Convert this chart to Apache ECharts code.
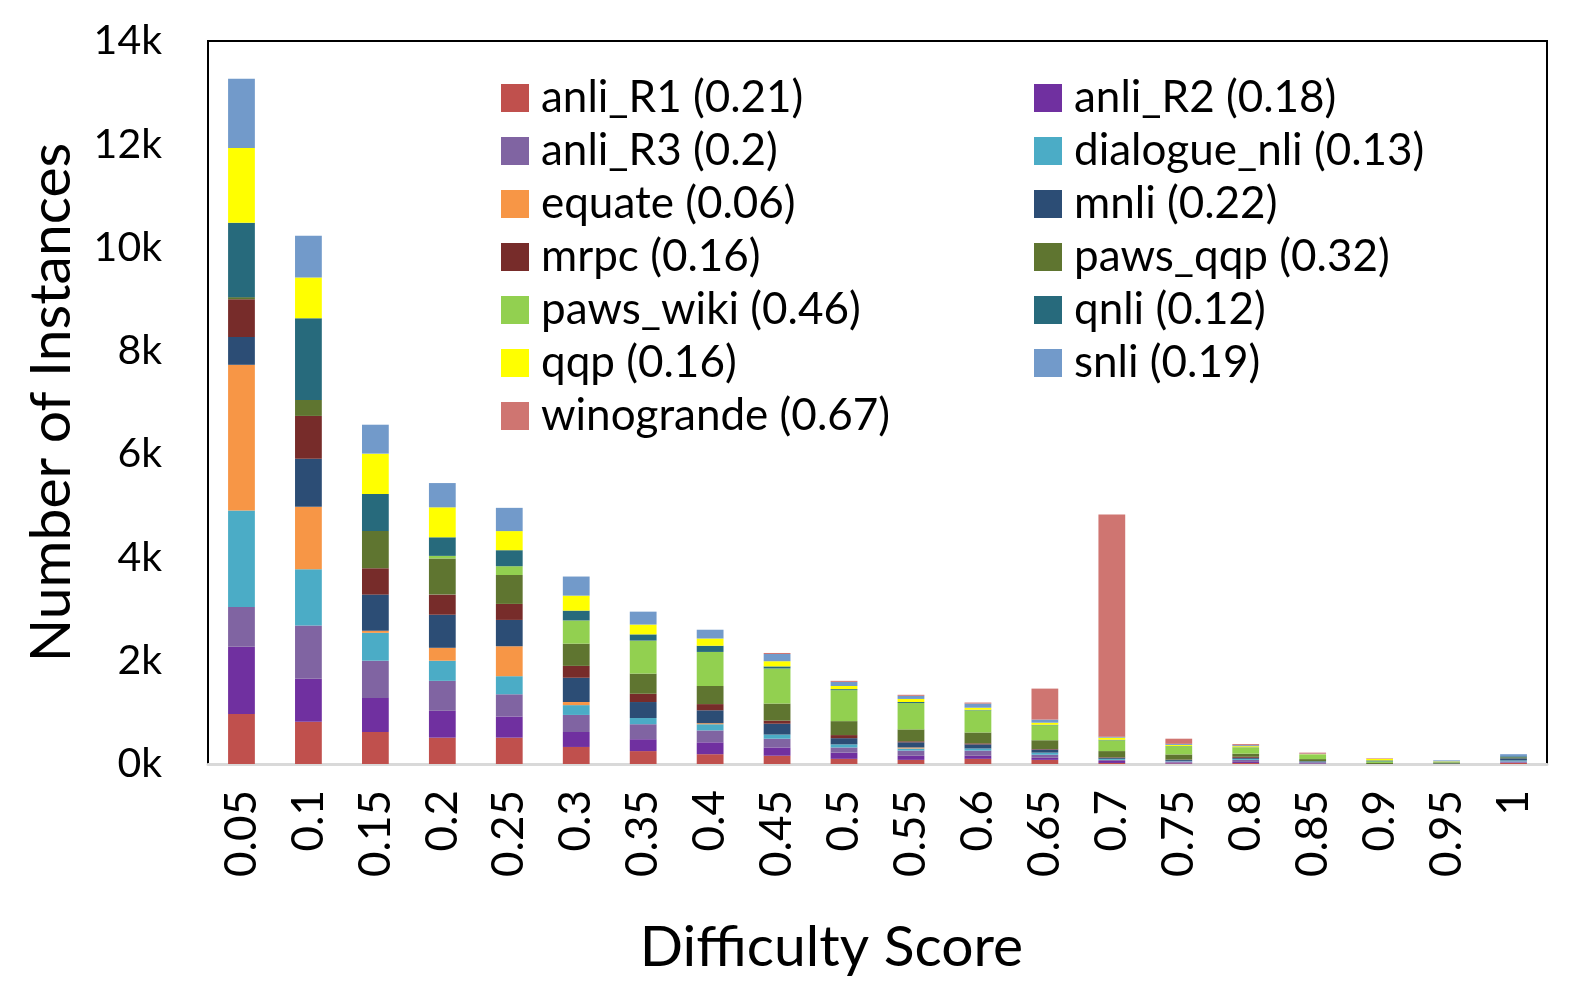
<!DOCTYPE html>
<html><head><meta charset="utf-8">
<script src="https://cdn.jsdelivr.net/npm/echarts@6/dist/echarts.min.js"></script>
<style>html,body{margin:0;padding:0;background:#fff}#c{width:1578px;height:990px}</style>
</head><body><div id="c"></div>
<script>
const categories = ['0.05','0.1','0.15','0.2','0.25','0.3','0.35','0.4','0.45','0.5','0.55','0.6','0.65','0.7','0.75','0.8','0.85','0.9','0.95','1'];
const anli_R1     = [970,820,620,510,510,330,250,190,160,100,80,100,80,20,10,20,5,0,0,20];
const anli_R2     = [1300,830,660,520,410,290,230,230,160,120,80,60,40,40,20,20,10,0,0,10];
const anli_R3     = [770,1030,720,580,430,330,290,230,170,100,100,100,60,20,20,40,20,0,0,20];
const dialogue_nli= [1870,1090,540,390,350,190,120,120,80,60,40,40,40,20,10,20,10,0,0,20];
const equate      = [2820,1210,40,250,580,60,0,20,0,0,20,0,0,0,0,0,0,0,0,0];
const mnli        = [540,930,700,640,510,470,310,250,210,120,100,80,60,20,20,20,10,0,10,40];
const mrpc        = [730,830,510,390,310,230,160,120,60,60,20,20,10,10,5,20,0,0,0,0];
const paws_qqp    = [40,310,720,700,560,430,390,350,330,270,230,210,170,120,100,60,40,20,20,20];
const paws_wiki   = [0,0,0,50,170,450,640,660,680,600,510,430,290,210,160,120,90,30,10,0];
const qnli        = [1440,1580,720,360,310,190,120,120,40,20,20,10,10,10,5,5,0,20,0,20];
const qqp         = [1450,790,780,580,370,290,190,140,100,60,60,40,40,40,20,20,5,30,10,0];
const snli        = [1340,810,560,470,450,370,250,170,140,80,60,80,60,20,20,20,10,0,20,40];
const winogrande  = [0,0,0,0,0,0,0,0,20,20,20,20,600,4300,100,20,20,10,0,0];
const yTicks = [0,2000,4000,6000,8000,10000,12000,14000];

const seriesDefs = [
  ['anli_R1 (0.21)', anli_R1, '#C0504D'],
  ['anli_R2 (0.18)', anli_R2, '#7030A0'],
  ['anli_R3 (0.2)', anli_R3, '#8064A2'],
  ['dialogue_nli (0.13)', dialogue_nli, '#4BACC6'],
  ['equate (0.06)', equate, '#F79646'],
  ['mnli (0.22)', mnli, '#2C4D75'],
  ['mrpc (0.16)', mrpc, '#772C2A'],
  ['paws_qqp (0.32)', paws_qqp, '#5F7530'],
  ['paws_wiki (0.46)', paws_wiki, '#92D050'],
  ['qnli (0.12)', qnli, '#276A7C'],
  ['qqp (0.16)', qqp, '#FFFF00'],
  ['snli (0.19)', snli, '#729ACA'],
  ['winogrande (0.67)', winogrande, '#CF7571']
];

const FONT = 'Lato';
const chart = echarts.init(document.getElementById('c'), null, {renderer:'canvas'});
const legendCommon = {
  orient:'vertical', itemWidth:28, itemHeight:28, itemGap:9, icon:'rect', padding:0,
  textStyle:{fontFamily:FONT, fontSize:44, color:'#000', padding:[0,0,0,7]}
};
chart.setOption({
  animation:false,
  backgroundColor:'#fff',
  grid:{left:208, right:31, top:41, bottom:226, show:true, borderColor:'#000', borderWidth:2},
  legend:[
    Object.assign({left:501, top:76, data:['anli_R1 (0.21)','anli_R3 (0.2)','equate (0.06)','mrpc (0.16)','paws_wiki (0.46)','qqp (0.16)','winogrande (0.67)']}, legendCommon),
    Object.assign({left:1034, top:76, data:['anli_R2 (0.18)','dialogue_nli (0.13)','mnli (0.22)','paws_qqp (0.32)','qnli (0.12)','snli (0.19)']}, legendCommon)
  ],
  xAxis:{
    type:'category', data:categories,
    axisLine:{lineStyle:{color:'#D9D9D9', width:3}},
    axisTick:{show:false},
    axisLabel:{rotate:90, fontFamily:FONT, fontSize:44, color:'#000', margin:26},
    name:'Difficulty Score', nameLocation:'middle', nameGap:155,
    nameTextStyle:{fontFamily:FONT, fontSize:57, color:'#000', padding:[0,92,0,0]}
  },
  yAxis:{
    type:'value', min:0, max:14000, interval:2000,
    axisLine:{show:false}, axisTick:{show:false}, splitLine:{show:false},
    axisLabel:{fontFamily:FONT, fontSize:41, color:'#000', margin:46,
      formatter:v => yTicks.includes(v) ? (v/1000)+'k' : ''},
    name:'Number of Instances', nameLocation:'middle', nameGap:128,
    nameTextStyle:{fontFamily:FONT, fontSize:57, color:'#000'}
  },
  series: seriesDefs.map(([name, data, color]) => ({
    name, type:'bar', stack:'all', data, barWidth:'40%',
    itemStyle:{color}
  }))
});
</script></body></html>
